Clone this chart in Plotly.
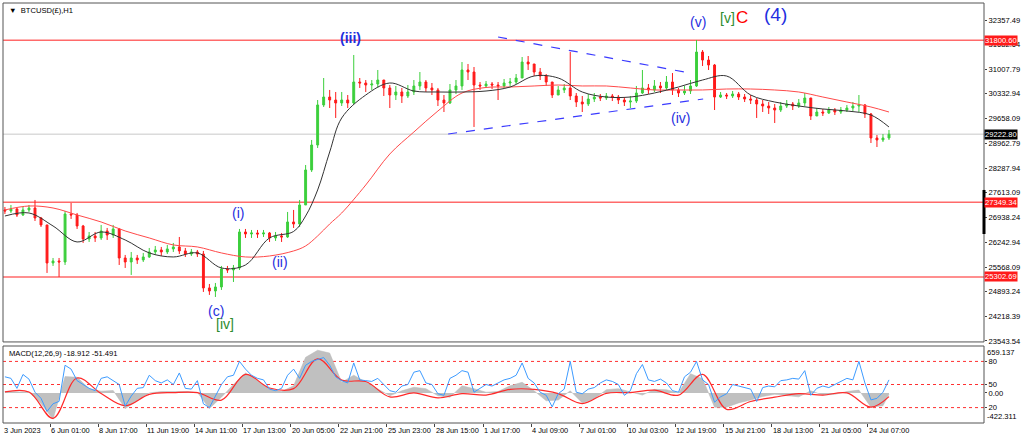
import plotly.graph_objects as go

# BTCUSD(£) H1, 3 Jun - 25 Jul 2023, resampled to 8-hour candles
closes = [
    27113, 27168, 27003, 27141, 27195, 26921, 26729, 25685, 25740, 25712,
    27031, 27003, 26701, 26344, 26427, 26372, 26564, 26454, 26619, 25822,
    25712, 25822, 25768, 25850, 25987, 26042, 25987, 26070, 26125, 26015,
    25932, 25987, 25932, 24999, 24916, 25026, 25520, 25493, 25548, 26536,
    26481, 26509, 26481, 26509, 26372, 26427, 26399, 26811, 26756, 27278,
    28239, 28925, 30024, 30243, 30161, 30079, 30161, 30079, 30655, 30628,
    30573, 30600, 30710, 30491, 30298, 30381, 30271, 30381, 30546, 30655,
    30491, 30436, 30161, 30079, 30436, 30546, 30985, 30930, 30573, 30546,
    30600, 30573, 30546, 30628, 30655, 30765, 31204, 31150, 30930, 30820,
    30655, 30298, 30436, 30491, 30271, 30106, 30051, 30188, 30243, 30216,
    30271, 30243, 30161, 30106, 30133, 30353, 30491, 30436, 30546, 30491,
    30655, 30436, 30353, 30408, 30546, 31479, 31259, 31122, 30243, 30298,
    30271, 30326, 30243, 30188, 30161, 30051, 29996, 29941, 29886, 29996,
    30051, 29996, 30079, 30216, 29722, 29831, 29804, 29886, 29831, 29886,
    29941, 29996, 30024, 29777, 29118, 29063, 29118, 29222.80,
]
highs = [
    27223, 27278, 27195, 27223, 27278, 27415, 26948, 26729, 25822, 25822,
    27113, 27333, 27058, 26729, 26536, 26536, 26729, 26646, 26729, 26646,
    25905, 25987, 25905, 25960, 26097, 26152, 26125, 26180, 26235, 26399,
    26097, 26070, 26042, 26015, 25108, 25136, 25603, 25603, 25630, 26619,
    26619, 26591, 26591, 26591, 26536, 26536, 26509, 27086, 27141, 27415,
    28376, 29063, 30161, 30765, 30436, 30381, 30381, 30298, 31397, 30765,
    30710, 30710, 30985, 30710, 30573, 30546, 30491, 30573, 30710, 30930,
    30710, 30628, 30491, 30298, 30600, 30710, 31204, 31150, 31067, 30655,
    30683, 30655, 30655, 30738, 30765, 30875, 31342, 31369, 31150, 31040,
    30875, 30655, 30546, 30600, 31479, 30353, 30271, 30326, 30353, 30326,
    30353, 30326, 30298, 30243, 30271, 30546, 30985, 30600, 30710, 30655,
    30820, 30902, 30491, 30546, 30710, 31809, 31534, 31369, 31150, 30381,
    30353, 30408, 30381, 30326, 30298, 30216, 30161, 30106, 30051, 30106,
    30161, 30106, 30188, 30353, 30216, 29941, 29914, 29969, 29941, 29969,
    30024, 30106, 30298, 30051, 29804, 29200, 29227, 29337,
]
lows = [
    27031, 27058, 26948, 26976, 27086, 26838, 26674, 25411, 25603, 25301,
    25630, 26894, 26619, 26235, 26262, 26262, 26317, 26317, 26372, 25630,
    25548, 25356, 25658, 25712, 25822, 25905, 25877, 25932, 25987, 25932,
    25850, 25877, 25850, 24889, 24807, 24751, 24944, 25411, 25163, 25493,
    26372, 26372, 26372, 26399, 26262, 26290, 26262, 26372, 26646, 26674,
    27278, 28184, 28843, 29969, 29941, 29667, 29996, 29941, 30051, 30491,
    30381, 30436, 30491, 30271, 29941, 30161, 30079, 30216, 30298, 30436,
    30381, 30298, 29996, 29831, 30051, 30326, 30436, 30710, 29420, 30436,
    30491, 30463, 30161, 30491, 30546, 30600, 30765, 30985, 30820, 30710,
    30546, 30216, 30298, 30353, 30161, 29969, 29831, 29996, 30106, 30133,
    30161, 30133, 30051, 29996, 29941, 30079, 30326, 30326, 30381, 30353,
    30436, 30298, 30243, 30298, 30326, 30518, 31095, 30985, 29886, 30216,
    30188, 30216, 30161, 30106, 30051, 29667, 29831, 29777, 29529, 29831,
    29941, 29886, 29941, 29996, 29612, 29722, 29722, 29777, 29749, 29777,
    29831, 29859, 29831, 29667, 28980, 28870, 29008, 29063,
]
first_open = 27141

# moving averages (black fast, red slow), sampled at these candles
ma_bars = [0, 4, 8, 12, 16, 20, 24, 28, 32, 36, 40, 44, 48, 50, 52, 54,
           56, 60, 64, 68, 72, 76, 80, 84, 88, 92, 96, 100, 104, 108, 112,
           116, 120, 124, 128, 132, 136, 140, 144, 147]
ma_fast = [26975, 27058, 26701, 26262, 26536, 26317, 25960, 25850, 25960,
           25548, 25630, 26372, 26550, 26975, 27690, 28733,
           29667, 30298, 30628, 30408, 30381, 30381, 30408, 30518, 30820,
           30765, 30381, 30243, 30243, 30353, 30518, 30710, 30820, 30298,
           30106, 29996, 29914, 29859, 29749, 29420]
ma_slow = [27141, 27250, 27195, 27003, 26811, 26564, 26372, 26180, 26125,
           25960, 25850, 25877, 26015, 26152, 26427, 26756,
           27058, 27827, 28678, 29282, 29859, 30353, 30505, 30518, 30546,
           30573, 30546, 30546, 30491, 30436, 30436, 30436, 30463, 30463,
           30436, 30381, 30243, 30106, 29969, 29831]

level_lines = [31800.60, 27349.34, 25302.69]
last_price = 29222.80
price_ticks = [32357.49, 31682.64, 31007.79, 30332.94, 29658.09, 28962.79,
               28287.94, 27613.09, 26938.24, 26242.94, 25568.09, 24893.24,
               24218.39, 23543.54]

time_labels = ["3 Jun 2023", "6 Jun 01:00", "8 Jun 17:00", "11 Jun 19:00",
               "14 Jun 11:00", "17 Jun 13:00", "20 Jun 05:00", "22 Jun 21:00",
               "25 Jun 23:00", "28 Jun 15:00", "1 Jul 17:00", "4 Jul 09:00",
               "7 Jul 01:00", "10 Jul 03:00", "12 Jul 19:00", "15 Jul 21:00",
               "18 Jul 13:00", "21 Jul 05:00", "24 Jul 07:00"]

# MACD(12,26,9): histogram every 2 candles, signal every 4
hist_bars = list(range(0, 147, 2)) + [147]
macd_hist = [20, 15, 10, -150, -370, 230, 220, 60, 25, 35,
             -220, -110, 0, 20, 25, 20, 10, -220, -60, 120,
             280, 170, 60, 20, 100, 500, 600, 560, 150, 250,
             150, 60, -40, 30, 80, 60, -40, -60, 100, 60,
             10, 20, 100, 150, 30, -110, -100, 30, -140, -80,
             45, 60, 10, -30, 50, 45, 0, 270, 200, -200,
             -200, -140, -100, -50, -20, -40, -55, 30, -30, -20,
             20, 40, -200, -180, -18.912]
signal_bars = list(range(0, 145, 4)) + [147]
macd_signal = [14, 14, -357, 210, -9, -180, -20, 5, 5, -100,
               260, 70, 60, 480, 180, 160, -56, 0, -70, -10,
               -30, 50, 50, -10, -150, -5, 5, 39, -30, 260,
               -230, -120, -60, -10, -30, 0, -200, -51.491]
macd_top = 659.137
macd_bottom = -422.311

# blue 0-100 oscillator drawn in the same window
osc_values = [60, 58, 45, 63, 57, 40, 32, 15, 25, 28,
              75, 70, 55, 50, 45, 42, 58, 60, 55, 50,
              22, 35, 45, 46, 62, 55, 52, 56, 50, 65,
              45, 44, 55, 25, 20, 35, 50, 60, 62, 80,
              70, 62, 58, 56, 44, 42, 45, 62, 70, 58,
              75, 80, 82, 85, 75, 60, 55, 52, 78, 56,
              55, 54, 58, 50, 42, 40, 48, 50, 66, 68,
              52, 50, 38, 36, 58, 62, 68, 66, 40, 45,
              50, 48, 52, 56, 58, 62, 78, 58, 52, 40,
              36, 21, 38, 44, 80, 40, 38, 44, 46, 52,
              56, 54, 50, 36, 42, 64, 76, 56, 54, 57,
              52, 42, 40, 60, 66, 80, 56, 50, 27, 34,
              38, 50, 48, 46, 44, 28, 46, 48, 47, 55,
              56, 58, 57, 68, 36, 45, 48, 46, 50, 55,
              58, 56, 80, 52, 30, 32, 40, 56]
osc_levels = [80, 50, 20]

# Elliott wave labels: text, candle, price, colour, size
wave_labels = [
    ("<b>(iii)</b>", 57.4, 31864, "#1f2fe0", 14),
    ("(i)", 38.8, 27058, "#1f2fe0", 14),
    ("(ii)", 45.8, 25712, "#1f2fe0", 14),
    ("(c)", 35.1, 24367, "#1f2fe0", 14),
    ("[iv]", 36.6, 24010, "#2e8b2e", 14),
    ("(v)", 115.3, 32303, "#1f2fe0", 14),
    ("[v]", 120.2, 32413, "#2e8b2e", 14),
    ("C", 122.5, 32430, "#ff0000", 17),
    ("(4)", 128.1, 32523, "#1f2fe0", 19),
    ("(iv)", 112.3, 29667, "#1f2fe0", 14),
]

# triangle trendlines: candle, price
upper_line_bars = [82.0, 113.9]
upper_line_prices = [31891, 30902]
lower_line_bars = [73.7, 116.1]
lower_line_prices = [29227, 30188]

assert len(closes) == len(highs) == len(lows) == len(osc_values)
assert len(ma_bars) == len(ma_fast) == len(ma_slow)
assert len(hist_bars) == len(macd_hist)
assert len(signal_bars) == len(macd_signal)

bars = list(range(len(closes)))
opens = [first_open] + closes[:-1]

main_domain = [0.193, 1]
macd_domain = [0, 0.1833]

fig = go.Figure()

fig.add_trace(
    go.Candlestick(
        x=bars, open=opens, high=highs, low=lows, close=closes,
        increasing={"line": {"color": "#3ccf3c", "width": 1}, "fillcolor": "#3ccf3c"},
        decreasing={"line": {"color": "#ff1a1a", "width": 1}, "fillcolor": "#ff1a1a"},
        whiskerwidth=0,
        hoverinfo="skip",
        xaxis="x", yaxis="y",
    )
)

fig.add_trace(
    go.Scatter(x=ma_bars, y=ma_slow, mode="lines", line_shape="spline",
               line={"color": "#ff4a4a", "width": 1}, xaxis="x", yaxis="y")
)
fig.add_trace(
    go.Scatter(x=ma_bars, y=ma_fast, mode="lines", line_shape="spline",
               line={"color": "#333333", "width": 1}, xaxis="x", yaxis="y")
)

for line_bars, line_prices in [(upper_line_bars, upper_line_prices),
                               (lower_line_bars, lower_line_prices)]:
    fig.add_trace(
        go.Scatter(x=line_bars, y=line_prices, mode="lines",
                   line={"color": "#3a3aff", "width": 1.2, "dash": "dash"},
                   xaxis="x", yaxis="y")
    )

fig.add_trace(
    go.Scatter(x=hist_bars, y=macd_hist, mode="lines", fill="tozeroy",
               fillcolor="#c0c0c0", line={"color": "#b8b8b8", "width": 0.5},
               xaxis="x", yaxis="y2")
)
fig.add_trace(
    go.Scatter(x=signal_bars, y=macd_signal, mode="lines", line_shape="spline",
               line={"color": "#ff2a2a", "width": 1.2}, xaxis="x", yaxis="y2")
)
fig.add_trace(
    go.Scatter(x=bars, y=osc_values, mode="lines",
               line={"color": "#3d9bff", "width": 1}, xaxis="x", yaxis="y3")
)

shapes = []
for level in level_lines:
    shapes.append({"type": "line", "xref": "paper", "x0": 0, "x1": 1,
                   "yref": "y", "y0": level, "y1": level,
                   "line": {"color": "#ff6a6a", "width": 1.5}, "layer": "below"})
shapes.append({"type": "line", "xref": "paper", "x0": 0, "x1": 1,
               "yref": "y", "y0": last_price, "y1": last_price,
               "line": {"color": "#c8c8c8", "width": 1}, "layer": "below"})
for level in osc_levels:
    shapes.append({"type": "line", "xref": "paper", "x0": 0, "x1": 1,
                   "yref": "y3", "y0": level, "y1": level,
                   "line": {"color": "#ff3030", "width": 1, "dash": "dot"},
                   "layer": "below"})
for dom in (main_domain, macd_domain):
    shapes.append({"type": "rect", "xref": "paper", "yref": "paper",
                   "x0": 0, "x1": 1, "y0": dom[0], "y1": dom[1],
                   "line": {"color": "#555555", "width": 1}})
# scroll marker on the price scale
shapes.append({"type": "line", "xref": "paper", "x0": 1, "x1": 1,
               "yref": "y", "y0": 27690, "y1": 26480,
               "line": {"color": "#000000", "width": 3}})

small_font = {"family": "Liberation Sans", "size": 7.6, "color": "#000"}

annotations = []
for text, bar, price, color, size in wave_labels:
    annotations.append({"text": text, "x": bar, "y": price, "xref": "x", "yref": "y",
                        "showarrow": False,
                        "font": {"family": "Liberation Sans", "size": size, "color": color}})

for level in level_lines:
    annotations.append({"text": f"{level:.2f}", "xref": "paper", "x": 1, "xanchor": "left",
                        "xshift": 0, "yref": "y", "y": level, "showarrow": False,
                        "bgcolor": "#ff1a1a", "borderpad": 0,
                        "font": {**small_font, "color": "white"}})
annotations.append({"text": f"{last_price:.2f}", "xref": "paper", "x": 1, "xanchor": "left",
                    "xshift": 0, "yref": "y", "y": last_price, "showarrow": False,
                    "bgcolor": "#000000", "borderpad": 0,
                    "font": {**small_font, "color": "white"}})

for k, label in enumerate(time_labels):
    annotations.append({"text": label, "xref": "x", "x": max(8 * k - 0.5, -0.3),
                        "xanchor": "left", "xshift": -1, "yref": "paper", "y": 0,
                        "yanchor": "top", "yshift": -1, "showarrow": False,
                        "font": {**small_font, "size": 7.4}})

annotations.append({"text": "▼  BTCUSD(£),H1", "xref": "paper", "x": 0, "xanchor": "left",
                    "xshift": 4, "yref": "paper", "y": 1, "yanchor": "top", "yshift": -1,
                    "showarrow": False, "font": small_font})
annotations.append({"text": f"MACD(12,26,9) {macd_hist[-1]:.3f} {macd_signal[-1]:.3f}",
                    "xref": "paper", "x": 0, "xanchor": "left", "xshift": 4,
                    "yref": "paper", "y": macd_domain[1], "yanchor": "top", "yshift": -1,
                    "showarrow": False, "font": small_font})
annotations.append({"text": f"{macd_top:.3f}", "xref": "paper", "x": 1, "xanchor": "left",
                    "xshift": 1, "yref": "paper", "y": macd_domain[1], "yanchor": "top",
                    "showarrow": False, "font": small_font})
annotations.append({"text": f"{macd_bottom:.3f}", "xref": "paper", "x": 1, "xanchor": "left",
                    "xshift": 1, "yref": "paper", "y": macd_domain[0], "yanchor": "bottom",
                    "showarrow": False, "font": small_font})

fig.update_layout(
    width=1024,
    height=441,
    margin={"l": 3, "r": 40, "t": 3, "b": 18},
    paper_bgcolor="white",
    plot_bgcolor="white",
    showlegend=False,
    boxgap=0.55,
    xaxis={
        "domain": [0, 1], "range": [-0.32, 162.8], "anchor": "y2",
        "showgrid": False, "zeroline": False, "showticklabels": False,
        "rangeslider": {"visible": False},
        "tickvals": [8 * k - 0.5 for k in range(1, len(time_labels))],
        "ticks": "outside", "ticklen": 3, "tickcolor": "#444",
    },
    yaxis={
        "domain": main_domain, "range": [23516, 32825], "anchor": "x",
        "side": "right", "showgrid": False, "zeroline": False,
        "tickvals": price_ticks, "ticktext": [f"{v:.2f}" for v in price_ticks],
        "ticks": "outside", "ticklen": 2, "tickcolor": "#444",
        "tickfont": small_font,
    },
    yaxis2={
        "domain": macd_domain, "range": [macd_bottom, macd_top], "anchor": "x",
        "side": "right", "showgrid": False, "zeroline": False,
        "tickvals": [0], "ticktext": ["0.00"],
        "ticks": "outside", "ticklen": 2, "tickcolor": "#444",
        "tickfont": small_font,
    },
    yaxis3={
        "overlaying": "y2", "range": [0, 100], "anchor": "x",
        "side": "right", "showgrid": False, "zeroline": False,
        "tickvals": osc_levels, "ticktext": [str(v) for v in osc_levels],
        "ticks": "outside", "ticklen": 2, "tickcolor": "#444",
        "tickfont": small_font,
    },
    shapes=shapes,
    annotations=annotations,
)

fig.write_html(
    "out.html",
    config={"displayModeBar": False},
    post_script="document.body.style.margin = '0';",
)
